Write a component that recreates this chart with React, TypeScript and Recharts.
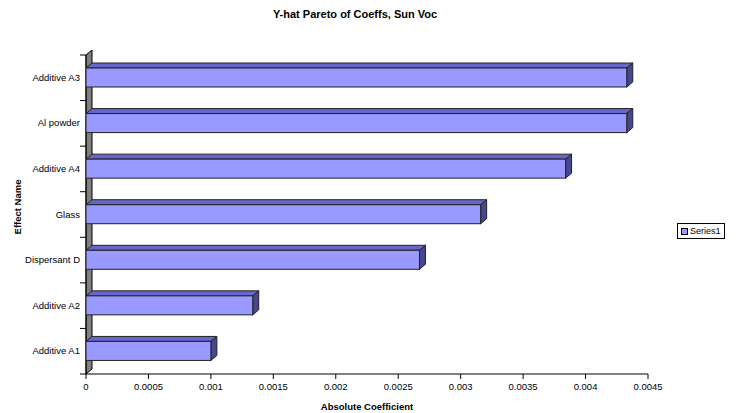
import { BarChart, Bar, XAxis, YAxis, ReferenceArea } from 'recharts'

const effects = ['Additive A3', 'Al powder', 'Additive A4', 'Glass', 'Dispersant D', 'Additive A2', 'Additive A1']
const coeffs = [0.00433, 0.00433, 0.00384, 0.00316, 0.00267, 0.001335, 0.001]
const xTicks = [0, 0.0005, 0.001, 0.0015, 0.002, 0.0025, 0.003, 0.0035, 0.004, 0.0045]
const seriesName = 'Series1'

const data = effects.map((name, i) => ({ name, value: coeffs[i] }))

const FONT = '"Liberation Sans", Arial, sans-serif'
const DX = 6
const DY = 5

// barre 3D façon Excel : face avant + dessus + côté droit
const Bar3D = (props: any) => {
  const { x, y, width, height } = props
  if (width == null || height == null) return null
  return (
    <g stroke="#222" strokeWidth={1}>
      <polygon
        points={`${x},${y} ${x + DX},${y - DY} ${x + width + DX},${y - DY} ${x + width},${y}`}
        fill="#6666CC"
      />
      <polygon
        points={`${x + width},${y} ${x + width + DX},${y - DY} ${x + width + DX},${y + height - DY} ${x + width},${y + height}`}
        fill="#474790"
      />
      <rect x={x} y={y} width={width} height={height} fill="#9999FF" />
    </g>
  )
}

// mur gris à gauche + graduations entre catégories
const Wall = (props: any) => {
  const { x, y, height } = props
  const band = height / effects.length
  const ticks = []
  for (let i = 0; i <= effects.length; i++) {
    const ty = y + i * band
    ticks.push(<line key={i} x1={x - 6} y1={ty} x2={x} y2={ty} stroke="#000" />)
  }
  return (
    <g>
      <polygon
        points={`${x},${y} ${x + DX},${y - DY} ${x + DX},${y + height - DY} ${x},${y + height}`}
        fill="#808080"
        stroke="#000"
        strokeWidth={1}
      />
      <line x1={x} y1={y} x2={x} y2={y + height} stroke="#000" />
      {ticks}
    </g>
  )
}

const YTick = (props: any) => {
  const { x, y, payload } = props
  return (
    <text x={x + 2} y={y} dy={3} textAnchor="end" fontSize={9.5} fontFamily={FONT} fill="#000">
      {payload.value}
    </text>
  )
}

const XTick = (props: any) => {
  const { x, y, payload } = props
  return (
    <text x={x} y={y} dy={9} textAnchor="middle" fontSize={9.5} fontFamily={FONT} fill="#000">
      {String(payload.value)}
    </text>
  )
}

export default function App() {
  return (
    <div style={{ position: 'absolute', left: 0, top: 0, width: 738, height: 413, background: '#fff' }}>
      <BarChart
        width={738}
        height={413}
        data={data}
        layout="vertical"
        margin={{ top: 55, right: 90, bottom: 14, left: 0 }}
      >
        <text x={355} y={18} textAnchor="middle" fontSize={11} fontWeight="bold" fontFamily={FONT}>
          Y-hat Pareto of Coeffs, Sun Voc
        </text>
        <text x={367} y={410} textAnchor="middle" fontSize={9.5} fontWeight="bold" fontFamily={FONT}>
          Absolute Coefficient
        </text>
        <text
          x={21}
          y={207}
          textAnchor="middle"
          fontSize={9.5}
          fontWeight="bold"
          fontFamily={FONT}
          transform="rotate(-90 21 207)"
        >
          Effect Name
        </text>
        <XAxis
          type="number"
          domain={[0, 0.0045]}
          ticks={xTicks}
          height={25}
          tickSize={5}
          stroke="#000"
          tick={<XTick />}
          allowDataOverflow
        />
        <YAxis
          type="category"
          dataKey="name"
          width={86}
          axisLine={false}
          tickLine={false}
          tick={<YTick />}
          interval={0}
        />
        <ReferenceArea x1={0} x2={0.0045} shape={<Wall />} ifOverflow="visible" />
        <Bar dataKey="value" name={seriesName} barSize={19} shape={<Bar3D />} isAnimationActive={false} />
      </BarChart>
      <div
        style={{
          position: 'absolute',
          left: 677,
          top: 223,
          border: '1px solid #000',
          padding: '2px 3px',
          fontFamily: FONT,
          fontSize: 9,
          display: 'flex',
          alignItems: 'center',
          background: '#fff',
        }}
      >
        <span
          style={{
            width: 5,
            height: 5,
            background: '#9999FF',
            border: '1px solid #000',
            marginRight: 2,
            display: 'inline-block',
          }}
        />
        {seriesName}
      </div>
    </div>
  )
}
